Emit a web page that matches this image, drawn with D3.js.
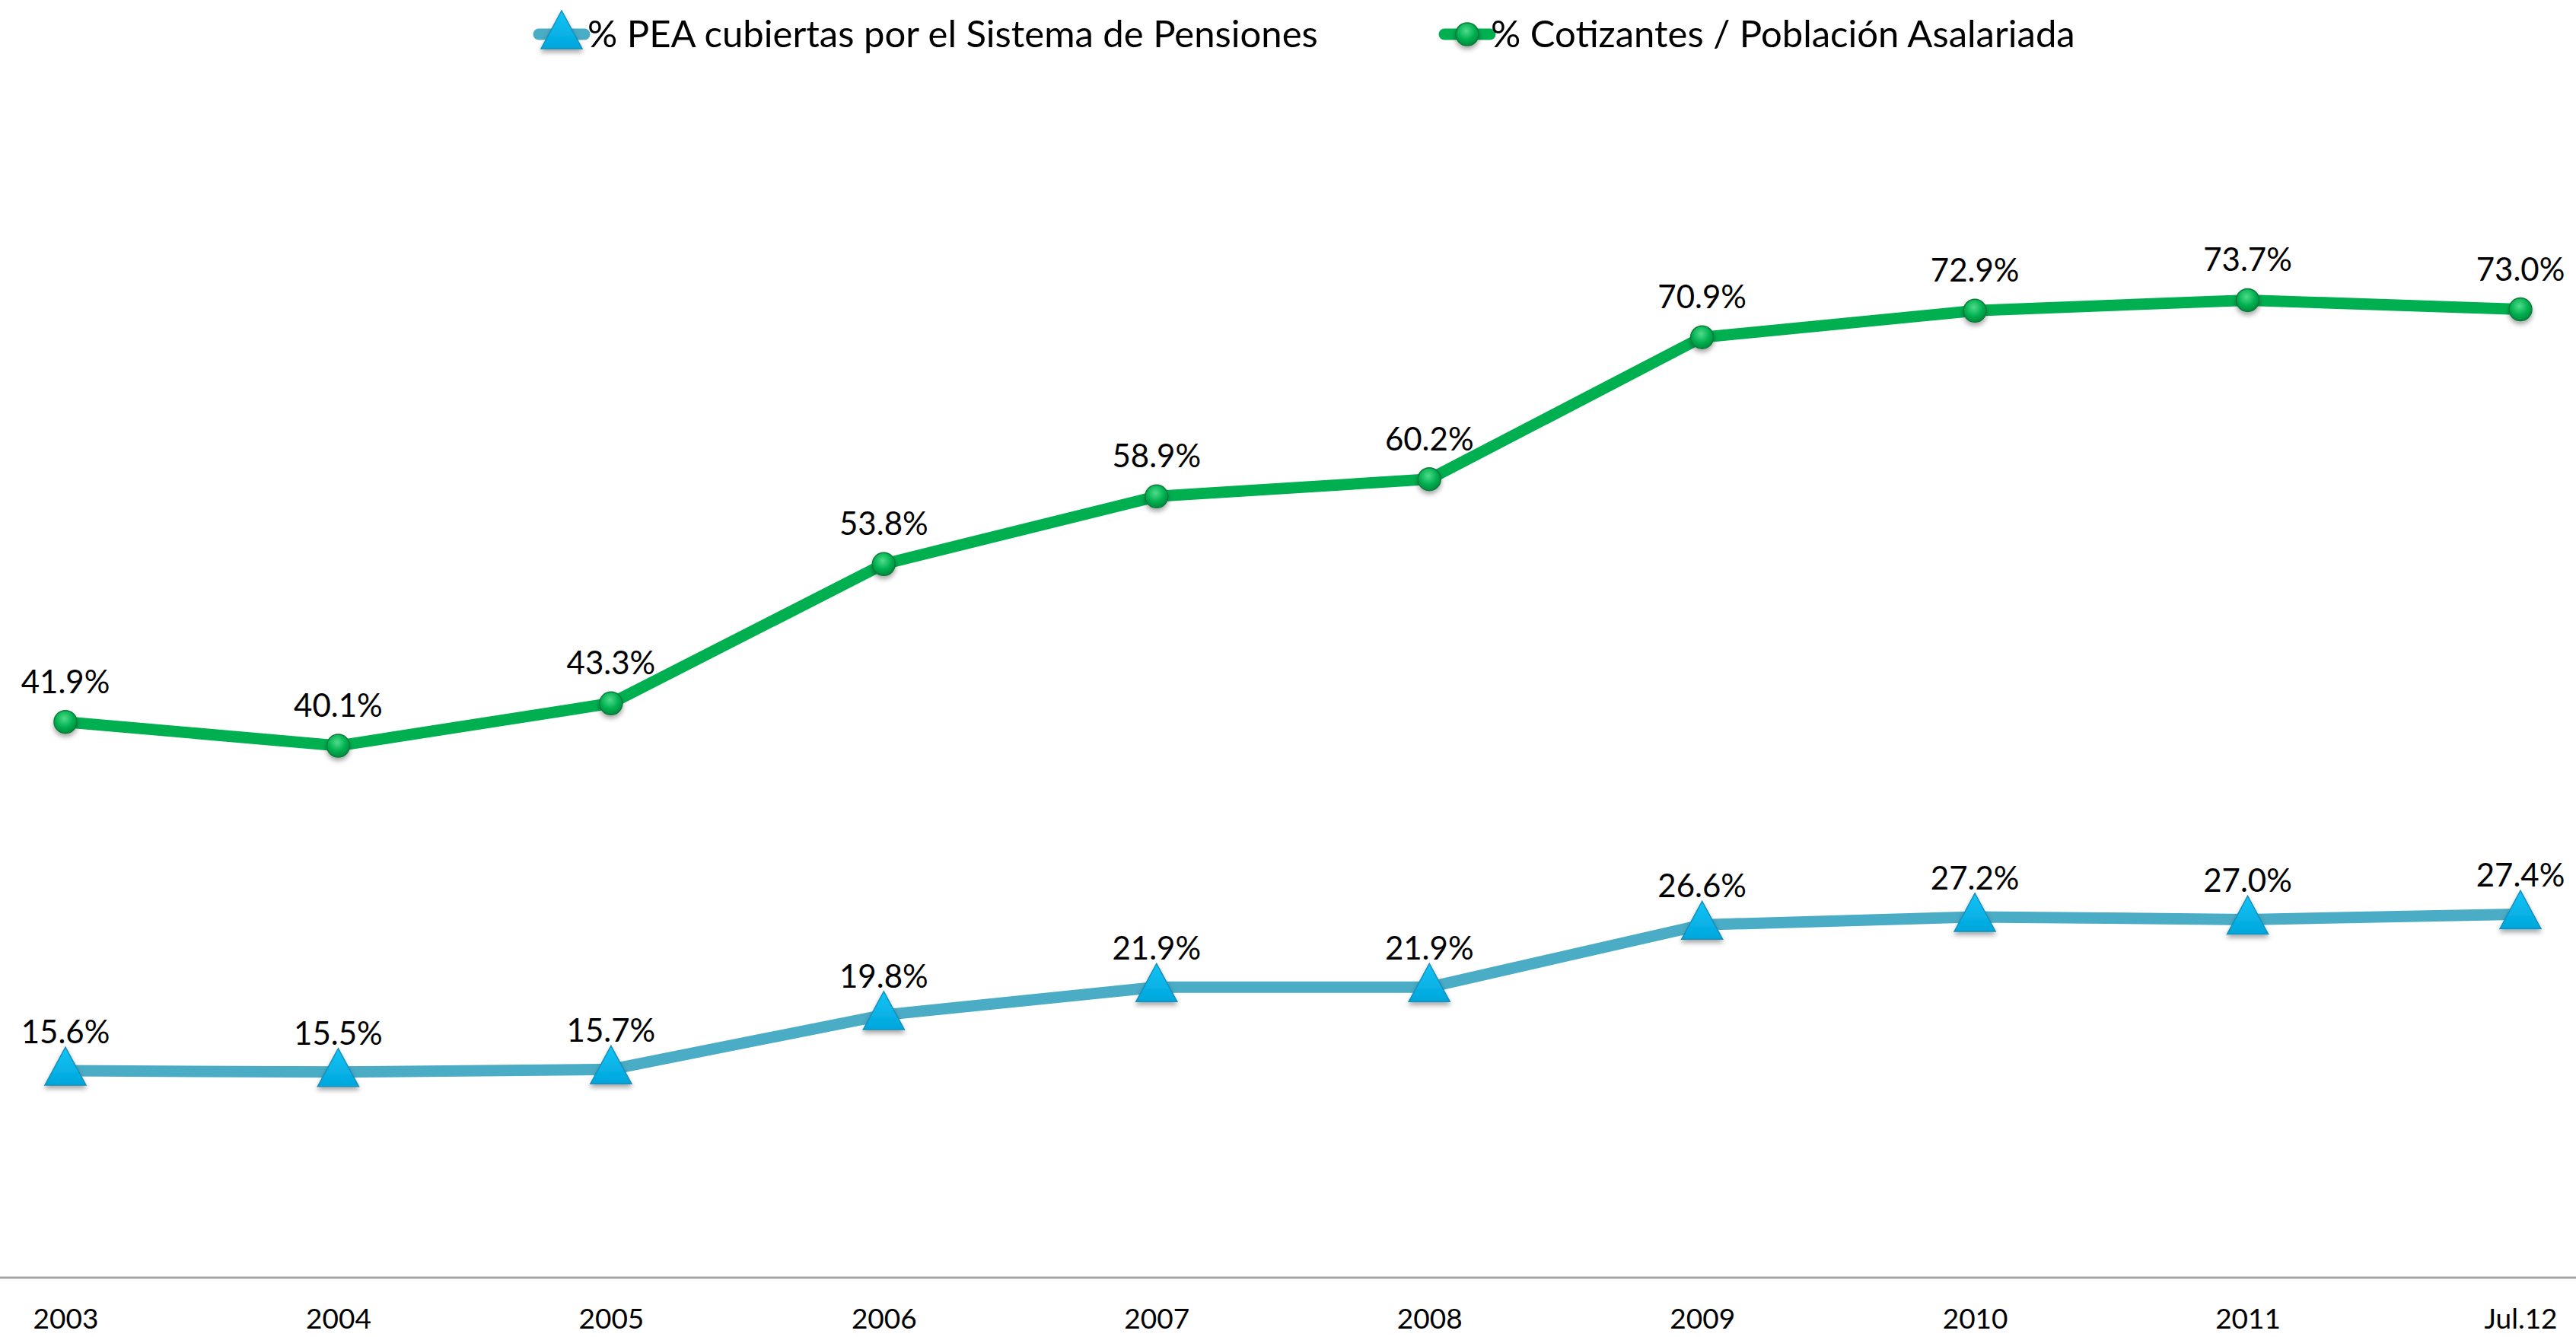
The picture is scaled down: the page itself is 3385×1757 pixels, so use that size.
<!DOCTYPE html>
<html>
<head>
<meta charset="utf-8">
<script src="https://cdn.jsdelivr.net/npm/d3@7"></script>
<style>
  body { margin: 0; background: #fff; }
  svg { display: block; font-family: Lato, "Open Sans", sans-serif; }
</style>
</head>
<body>
<div id="chart"></div>
<script>
// categories and series
const years = ["2003", "2004", "2005", "2006", "2007", "2008", "2009", "2010", "2011", "Jul.12"];
const peaCubierta = [15.6, 15.5, 15.7, 19.8, 21.9, 21.9, 26.6, 27.2, 27.0, 27.4];
const cotizantes = [41.9, 40.1, 43.3, 53.8, 58.9, 60.2, 70.9, 72.9, 73.7, 73.0];
const seriesNames = ["% PEA cubiertas por el Sistema de Pensiones", "% Cotizantes / Población Asalariada"];

const width = 3385, height = 1757;

const svg = d3.select("#chart")
  .append("svg")
  .attr("width", width)
  .attr("height", height);

const defs = svg.append("defs");

// soft shadow under markers
const shadow = defs.append("filter").attr("id", "shadow")
  .attr("x", "-50%").attr("y", "-50%").attr("width", "200%").attr("height", "200%");
shadow.append("feDropShadow")
  .attr("dx", 0).attr("dy", 4).attr("stdDeviation", 3)
  .attr("flood-color", "#000").attr("flood-opacity", 0.35);

const ball = defs.append("radialGradient").attr("id", "ball")
  .attr("cx", "45%").attr("cy", "35%").attr("r", "65%");
ball.append("stop").attr("offset", "0%").attr("stop-color", "#4fdc8a");
ball.append("stop").attr("offset", "60%").attr("stop-color", "#00b050");
ball.append("stop").attr("offset", "100%").attr("stop-color", "#008a3c");

const tri = defs.append("linearGradient").attr("id", "tri")
  .attr("x1", "0%").attr("y1", "0%").attr("x2", "0%").attr("y2", "100%");
tri.append("stop").attr("offset", "0%").attr("stop-color", "#14c4f6");
tri.append("stop").attr("offset", "100%").attr("stop-color", "#00a6dc");

// scales
const x = d3.scalePoint()
  .domain(years)
  .range([86, 3312]);

const y = d3.scaleLinear()
  .domain([0, 90])
  .range([1679, 1679 - 90 * 17.43]);

// x axis
svg.append("line")
  .attr("x1", 0).attr("x2", width)
  .attr("y1", y(0)).attr("y2", y(0))
  .attr("stroke", "#a6a6a6")
  .attr("stroke-width", 3);

const xAxis = svg.append("g")
  .attr("transform", "translate(0," + y(0) + ")")
  .call(d3.axisBottom(x).tickSize(0).tickPadding(41));
xAxis.select(".domain").remove();
xAxis.selectAll("text")
  .attr("font-family", "Lato")
  .attr("font-size", 37)
  .attr("fill", "#000");

const line = d3.line()
  .x((d, i) => x(years[i]))
  .y(d => y(d));

const triPath = "M0,-31 L27,19 L-27,19 Z";

// blue series
svg.append("path")
  .datum(peaCubierta)
  .attr("d", line)
  .attr("fill", "none")
  .attr("stroke", "#4bacc6")
  .attr("stroke-width", 15);

svg.append("g").selectAll("path")
  .data(peaCubierta)
  .join("path")
  .attr("d", triPath)
  .attr("transform", (d, i) => "translate(" + x(years[i]) + "," + y(d) + ")")
  .attr("fill", "url(#tri)")
  .attr("stroke", "#1590bb")
  .attr("stroke-width", 1.5)
  .attr("filter", "url(#shadow)");

svg.append("g").selectAll("text")
  .data(peaCubierta)
  .join("text")
  .attr("x", (d, i) => x(years[i]))
  .attr("y", d => y(d) - 36)
  .attr("text-anchor", "middle")
  .attr("font-size", 42)
  .text(d => d.toFixed(1) + "%");

// green series
svg.append("path")
  .datum(cotizantes)
  .attr("d", line)
  .attr("fill", "none")
  .attr("stroke", "#00b050")
  .attr("stroke-width", 15);

svg.append("g").selectAll("circle")
  .data(cotizantes)
  .join("circle")
  .attr("cx", (d, i) => x(years[i]))
  .attr("cy", d => y(d))
  .attr("r", 15)
  .attr("fill", "url(#ball)")
  .attr("stroke", "#0b7a3a")
  .attr("stroke-width", 1.5)
  .attr("filter", "url(#shadow)");

svg.append("g").selectAll("text")
  .data(cotizantes)
  .join("text")
  .attr("x", (d, i) => x(years[i]))
  .attr("y", d => y(d) - 38)
  .attr("text-anchor", "middle")
  .attr("font-size", 42)
  .text(d => d.toFixed(1) + "%");

// legend
const legend = svg.append("g");

const leg1 = legend.append("g").attr("transform", "translate(738,45)");
leg1.append("line").attr("x1", -30).attr("x2", 30)
  .attr("stroke", "#4bacc6").attr("stroke-width", 15).attr("stroke-linecap", "round");
leg1.append("path").attr("d", triPath)
  .attr("fill", "url(#tri)").attr("stroke", "#1590bb").attr("stroke-width", 1.5)
  .attr("filter", "url(#shadow)");
leg1.append("text").attr("x", 34).attr("y", 17)
  .attr("font-size", 49).text(seriesNames[0]);

const leg2 = legend.append("g").attr("transform", "translate(1928,45)");
leg2.append("line").attr("x1", -30).attr("x2", 30)
  .attr("stroke", "#00b050").attr("stroke-width", 15).attr("stroke-linecap", "round");
leg2.append("circle").attr("r", 15)
  .attr("fill", "url(#ball)").attr("stroke", "#0b7a3a").attr("stroke-width", 1.5)
  .attr("filter", "url(#shadow)");
leg2.append("text").attr("x", 31).attr("y", 17)
  .attr("font-size", 49).text(seriesNames[1]);
</script>
</body>
</html>
